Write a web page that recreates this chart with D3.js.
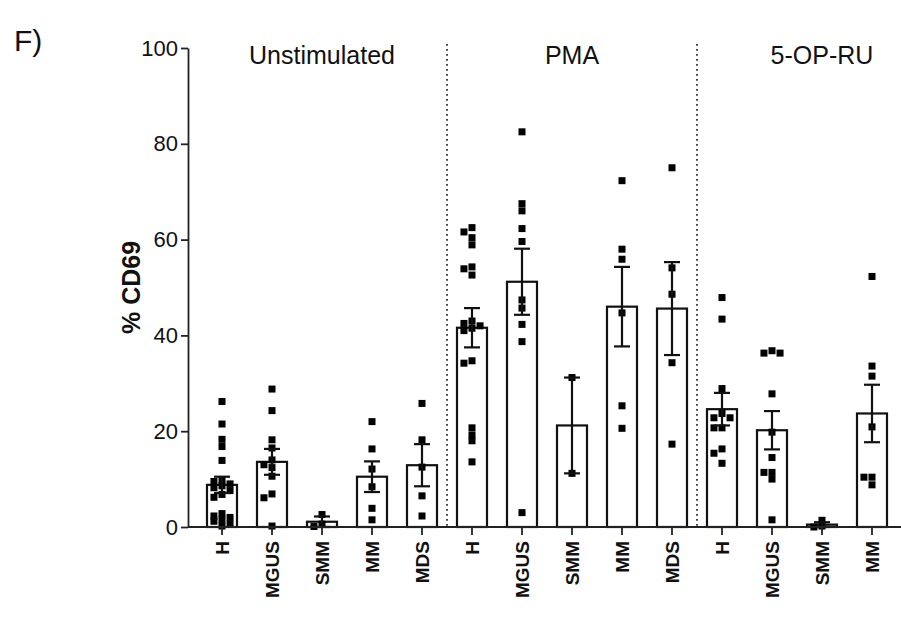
<!DOCTYPE html>
<html>
<head>
<meta charset="utf-8">
<script src="https://cdn.jsdelivr.net/npm/d3@7"></script>
<style>
  body { margin: 0; background: #fff; }
  svg text { font-family: "Liberation Sans", Arial, sans-serif; fill: #111; }
</style>
</head>
<body>
<div id="chart-area"></div>
<script>
// categories along the x axis (one per bar)
const categories = ["H", "MGUS", "SMM", "MM", "MDS",
                    "H", "MGUS", "SMM", "MM", "MDS",
                    "H", "MGUS", "SMM", "MM"];
// group of each bar
const groups = ["Unstimulated", "PMA", "5-OP-RU"];
const groupOf = [0,0,0,0,0, 1,1,1,1,1, 2,2,2,2];

// bar heights (mean %) and error (SEM)
const means = [8.8, 13.6, 1.1, 10.5, 12.9,
               41.6, 51.2, 21.2, 46.0, 45.6,
               24.6, 20.2, 0.5, 23.7];
const sems  = [1.7, 2.7, 1.1, 3.2, 4.4,
               4.1, 6.9, 10.0, 8.3, 9.7,
               3.4, 4.0, 0.5, 6.0];

// individual donors (% CD69)
const points = [
  [26.2, 21.5, 18.3, 16.8, 13.9, 9.8, 9.5, 9.0, 8.6, 8.2, 7.6, 6.8, 6.2, 2.8, 2.3, 2.0, 1.5, 1.2, 0.6, 0.2],
  [28.8, 24.3, 18.2, 16.5, 14.0, 13.0, 12.4, 10.6, 6.9, 6.1, 0.2],
  [2.6, 0.6, 0.1],
  [22.0, 16.3, 12.1, 8.4, 3.9, 1.5],
  [25.8, 18.2, 12.5, 6.5, 2.3],
  [62.5, 61.6, 60.4, 58.9, 54.3, 53.9, 52.6, 43.0, 42.5, 42.0, 41.5, 41.0, 34.7, 34.2, 20.7, 19.2, 18.0, 13.6],
  [82.5, 67.5, 66.0, 62.3, 59.6, 47.4, 45.7, 42.3, 38.7, 3.0],
  [31.2, 11.2],
  [72.3, 58.0, 55.9, 44.7, 25.3, 20.6],
  [75.0, 54.1, 48.6, 34.3, 17.3],
  [47.9, 43.4, 28.9, 23.7, 22.8, 22.8, 20.7, 20.7, 16.3, 15.4, 13.3],
  [36.8, 36.3, 36.3, 27.8, 19.8, 14.5, 11.4, 11.4, 10.0, 1.5],
  [1.4, 0.2, 0.0],
  [52.3, 33.6, 31.5, 20.9, 10.4, 10.4, 8.8]
];

const yTicks = [0, 20, 40, 60, 80, 100];

document.addEventListener("DOMContentLoaded", () => {
  const W = 901, H = 621;
  const left = 188, bottom = 527, top = 48;

  const svg = d3.select("#chart-area").append("svg")
    .attr("width", W).attr("height", H);

  const idx = categories.map((c, i) => i);

  // x scale
  const x = d3.scaleBand()
    .domain(idx)
    .range([left, 906])
    .paddingInner(0.4)
    .paddingOuter(0.38);
  const bw = x.bandwidth();
  const cx = i => x(i) + bw / 2;

  // y scale
  const y = d3.scaleLinear().domain([0, 100]).range([bottom, top]);

  // panel label
  svg.append("text").attr("x", 14).attr("y", 51)
    .attr("font-size", "30px").text("F)");

  // dotted separators between the groups
  [4, 9].forEach(i => {
    const sx = cx(i) + x.step() / 2;
    svg.append("line")
      .attr("x1", sx).attr("x2", sx)
      .attr("y1", top - 4).attr("y2", bottom)
      .attr("stroke", "#333").attr("stroke-width", 1.8)
      .attr("stroke-dasharray", "1.8,3.2");
  });

  // group titles
  groups.forEach((g, gi) => {
    const i = groupOf.indexOf(gi) + 2;
    svg.append("text")
      .attr("x", cx(i)).attr("y", 64)
      .attr("text-anchor", "middle")
      .attr("font-size", "25px")
      .text(g);
  });

  // bars
  svg.selectAll("rect.bar").data(means).enter()
    .append("rect").attr("class", "bar")
    .attr("x", (d, i) => x(i))
    .attr("y", d => y(d))
    .attr("width", bw)
    .attr("height", d => bottom - y(d))
    .attr("fill", "#fff")
    .attr("stroke", "#111").attr("stroke-width", 2.2);

  // simple swarm layout so the squares sit side by side
  const sz = 7;
  points.forEach((vals, i) => {
    const placed = [];
    vals.forEach(v => {
      const py = y(v);
      const offs = [0, -sz * 1.15, sz * 1.15, -sz * 2.3, sz * 2.3];
      let ox = 0;
      for (const o of offs) {
        const clash = placed.some(p => Math.abs(p.dx - o) < sz && Math.abs(p.py - py) < sz * 0.75);
        if (!clash) { ox = o; break; }
      }
      placed.push({dx: ox, py: py});
      svg.append("rect")
        .attr("x", cx(i) + ox - sz / 2)
        .attr("y", py - sz / 2)
        .attr("width", sz).attr("height", sz)
        .attr("fill", "#000");
    });
  });

  // error bars (mean +/- SEM)
  const cap = 8;
  means.forEach((m, i) => {
    const g = svg.append("g").attr("stroke", "#111").attr("stroke-width", 2.2);
    const lo = Math.max(0, m - sems[i]), hi = m + sems[i];
    g.append("line").attr("x1", cx(i)).attr("x2", cx(i))
      .attr("y1", y(lo)).attr("y2", y(hi));
    g.append("line").attr("x1", cx(i) - cap).attr("x2", cx(i) + cap)
      .attr("y1", y(hi)).attr("y2", y(hi));
    g.append("line").attr("x1", cx(i) - cap).attr("x2", cx(i) + cap)
      .attr("y1", y(lo)).attr("y2", y(lo));
  });

  // y axis
  const yAxis = svg.append("g")
    .attr("transform", "translate(" + left + ",0)")
    .call(d3.axisLeft(y).tickValues(yTicks).tickSize(7).tickSizeOuter(0).tickPadding(3));
  yAxis.selectAll("path, line").attr("stroke", "#222").attr("stroke-width", 1.8);
  yAxis.selectAll("text").attr("font-size", "22px")
    .attr("font-family", "Liberation Sans, Arial, sans-serif").attr("fill", "#111");

  // x axis
  const xAxis = svg.append("g")
    .attr("transform", "translate(0," + bottom + ")")
    .call(d3.axisBottom(x).tickSize(8).tickSizeOuter(0).tickFormat(i => categories[i]));
  xAxis.select("path").attr("stroke", "#222").attr("stroke-width", 1.8)
    .attr("d", "M" + left + ",0H" + W);
  xAxis.selectAll("line").attr("stroke", "#222").attr("stroke-width", 1.8);
  xAxis.selectAll("text")
    .attr("font-size", "19px")
    .attr("font-weight", "bold")
    .attr("font-family", "Liberation Sans, Arial, sans-serif")
    .attr("fill", "#111")
    .attr("text-anchor", "end")
    .attr("dy", "0.35em")
    .attr("transform", "translate(0,14) rotate(-90)")
    .attr("x", 0).attr("y", 0);

  // y label
  svg.append("text")
    .attr("transform", "translate(140," + y(50) + ") rotate(-90)")
    .attr("text-anchor", "middle")
    .attr("font-size", "25px").attr("font-weight", "bold")
    .text("% CD69");
});
</script>
</body>
</html>
